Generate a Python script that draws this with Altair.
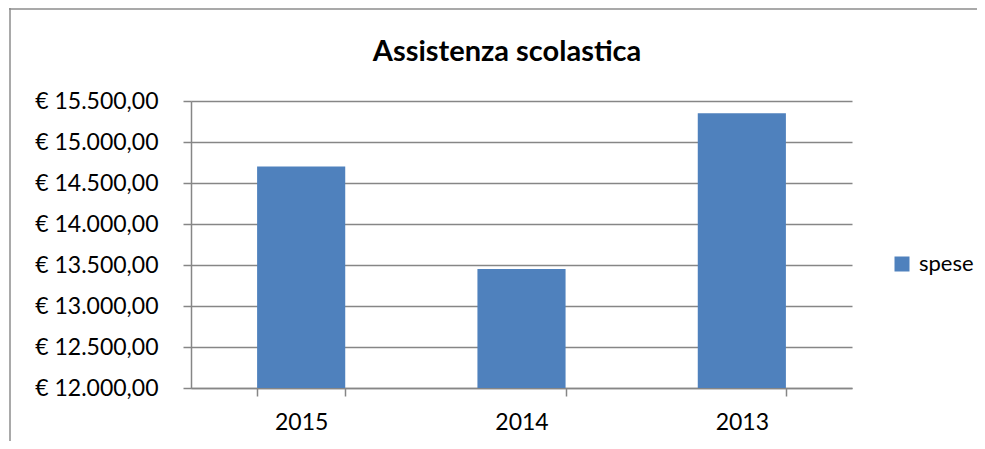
import altair as alt
import pandas as pd

years = ["2015", "2014", "2013"]
spese = [14700, 13450, 15350]
series = ["spese", "spese", "spese"]
y_ticks = [12000, 12500, 13000, 13500, 14000, 14500, 15000, 15500]
title_text = ["Assistenza scolastica"]

df = pd.DataFrame({"anno": years, "valore": spese, "serie": series})
tdf = pd.DataFrame({"t": title_text})

FONT = "Lato"
GRAY = "#868686"

label_expr = ("'€ ' + replace(replace(replace(format(datum.value, ',.2f'), "
              "regexp(',', 'g'), 'X'), regexp('\\\\.', 'g'), ','), regexp('X', 'g'), '.')")

bars = alt.Chart(df).mark_bar(color="#4F81BD", clip=True).encode(
    x=alt.X("anno:N", sort=None, title=None,
            scale=alt.Scale(paddingInner=0.6, paddingOuter=0.3),
            axis=alt.Axis(labelAngle=0, tickBand="extent", tickSize=8, labelPadding=15,
                          domainColor=GRAY, tickColor=GRAY, domainWidth=1.5, tickWidth=1.5,
                          labelFont=FONT, labelFontSize=23, labelColor="#000000", grid=False)),
    y=alt.Y("valore:Q", title=None,
            scale=alt.Scale(domain=[12000, 15500], nice=False, zero=False),
            axis=alt.Axis(values=y_ticks, labelExpr=label_expr, tickSize=8, labelPadding=25,
                          domainColor=GRAY, tickColor=GRAY, gridColor=GRAY,
                          domainWidth=1.5, tickWidth=1.5, gridWidth=1.5,
                          labelFont=FONT, labelFontSize=23, labelColor="#000000")),
    fill=alt.Fill("serie:N", title=None,
                  scale=alt.Scale(domain=["spese"], range=["#4F81BD"]),
                  legend=alt.Legend(orient="none", legendX=700, legendY=152,
                                    symbolType="square", symbolSize=225,
                                    symbolStrokeWidth=0, labelFont=FONT,
                                    labelFontSize=22, labelColor="#000000",
                                    labelOffset=6, padding=0)),
)

frame_left = alt.Chart(tdf).mark_rule(color="#8c8c8c", strokeWidth=1.5).encode(
    x=alt.value(-181), y=alt.value(-93), y2=alt.value(400))
frame_top = alt.Chart(tdf).mark_rule(color="#8c8c8c", strokeWidth=1.5).encode(
    x=alt.value(-182), x2=alt.value(800), y=alt.value(-92))

title = alt.Chart(tdf).mark_text(font=FONT, fontSize=29, fontWeight="bold",
                                 color="#000000", align="center",
                                 baseline="alphabetic").encode(
    text="t:N", x=alt.value(316), y=alt.value(-40))

chart = alt.layer(frame_left, frame_top, bars, title).properties(
    width=661, height=287,
    autosize=alt.AutoSizeParams(type="none"),
    padding={"left": 183, "top": 93, "right": 125, "bottom": 53},
).configure_view(stroke=None)

chart.save("out.html", embed_options={"renderer": "svg", "actions": False})
